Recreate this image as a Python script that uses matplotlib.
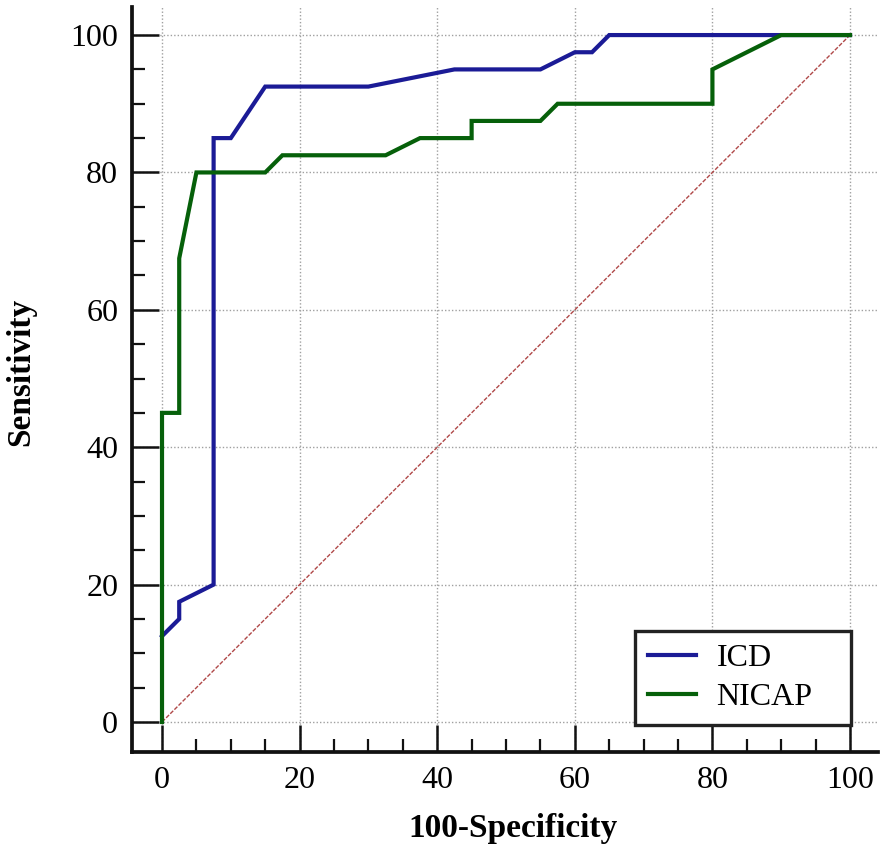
import numpy as np
import matplotlib
matplotlib.use('Agg')
import matplotlib.pyplot as plt
from matplotlib.ticker import MultipleLocator

plt.rcParams['font.family'] = ['Liberation Serif', 'DejaVu Serif']

# ROC curves (100-specificity, sensitivity)
icd_x = [0, 2.5, 2.5, 7.5, 7.5, 10, 15, 30, 42.5, 55, 60, 62.5, 65, 100]
icd_y = [12.5, 15, 17.5, 20, 85, 85, 92.5, 92.5, 95, 95, 97.5, 97.5, 100, 100]

nicap_x = [0, 0, 2.5, 2.5, 5, 15, 17.5, 32.5, 37.5, 45, 45, 55, 57.5, 80, 80, 90, 100]
nicap_y = [0, 45, 45, 67.5, 80, 80, 82.5, 82.5, 85, 85, 87.5, 87.5, 90, 90, 95, 100, 100]

ref_x = [0, 100]
ref_y = [0, 100]

ticks = [0, 20, 40, 60, 80, 100]

fig = plt.figure(figsize=(8.86, 8.48), dpi=100)
ax = fig.add_axes([0.149, 0.1132, 0.842, 0.8785])

ax.plot(ref_x, ref_y, color='#b04848', lw=1.0, ls=(0, (3, 1.2)), zorder=2)
ax.plot(icd_x, icd_y, color='#1b1b96', lw=3.0, label='ICD', zorder=3,
        solid_joinstyle='miter')
ax.plot(nicap_x, nicap_y, color='#06600a', lw=3.0, label='NICAP', zorder=3,
        solid_joinstyle='miter')

ax.set_xlim(-4.36, 104.07)
ax.set_ylim(-4.37, 104.08)
ax.set_xticks(ticks)
ax.set_yticks(ticks)
ax.xaxis.set_minor_locator(MultipleLocator(5))
ax.yaxis.set_minor_locator(MultipleLocator(5))

ax.grid(True, which='major', color='#a0a0a0', ls=(0, (1, 1.5)), lw=1.0)
ax.set_axisbelow(True)

for s in ['top', 'right']:
    ax.spines[s].set_visible(False)
for s in ['left', 'bottom']:
    ax.spines[s].set_linewidth(2.7)
    ax.spines[s].set_color('#111111')

ax.tick_params(which='major', direction='in', length=19.5, width=1.8,
               labelsize=23, pad=10, color='#111111')
ax.tick_params(which='minor', direction='in', length=9.5, width=1.6,
               color='#111111')

ax.set_xlabel('100-Specificity', fontsize=24, fontweight='bold')
ax.set_ylabel('Sensitivity', fontsize=24, fontweight='bold')
ax.xaxis.set_label_coords(0.511, -0.082)
ax.yaxis.set_label_coords(-0.128, 0.51)

# legend box spans a fixed width in data units, content left aligned
leg = ax.legend(loc='lower left', bbox_to_anchor=(68.75, -0.4, 31.35, 14),
                bbox_transform=ax.transData, mode='expand', fontsize=23,
                frameon=True, fancybox=False, borderaxespad=0,
                handlelength=1.5, handletextpad=0.65, labelspacing=0.3,
                borderpad=0.4)
leg.get_frame().set_edgecolor('#222222')
leg.get_frame().set_linewidth(2.4)
leg.get_frame().set_alpha(1)

fig.savefig('out.png', dpi=100)
